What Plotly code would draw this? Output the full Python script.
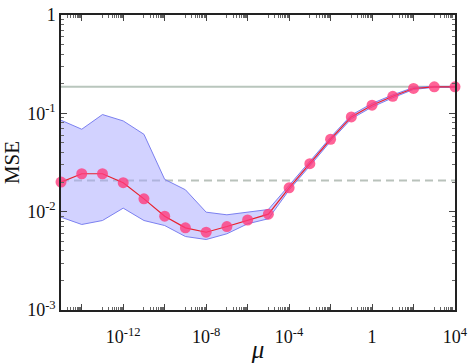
import plotly.graph_objects as go

# regularisation strength mu, one point per decade
mu = [1e-15, 1e-14, 1e-13, 1e-12, 1e-11, 1e-10, 1e-9, 1e-8, 1e-7, 1e-6,
      1e-5, 1e-4, 1e-3, 1e-2, 1e-1, 1e0, 1e1, 1e2, 1e3, 1e4]
mse_mean = [0.0200, 0.0243, 0.0243, 0.0197, 0.0135, 0.0090, 0.00685, 0.00618, 0.00706, 0.00823,
            0.00944, 0.0175, 0.0308, 0.0545, 0.092, 0.121, 0.149, 0.179, 0.186, 0.186]
mse_upper = [0.0851, 0.0689, 0.0972, 0.0837, 0.0612, 0.0213, 0.0167, 0.00988, 0.00929, 0.00988,
             0.01052, 0.0185, 0.0325, 0.0570, 0.0960, 0.126, 0.154, 0.183, 0.188, 0.188]
mse_lower = [0.00879, 0.00741, 0.00813, 0.01086, 0.00813, 0.00723, 0.00559, 0.00521, 0.00596, 0.00753,
             0.00847, 0.0166, 0.0292, 0.0520, 0.0880, 0.116, 0.144, 0.175, 0.184, 0.184]
ref_solid = 0.186
ref_dashed = 0.0208

x_major = [1e-14, 1e-12, 1e-10, 1e-8, 1e-6, 1e-4, 1e-2, 1e0, 1e2, 1e4]
x_text = ["", "10<sup>-12</sup>", "", "10<sup>-8</sup>", "", "10<sup>-4</sup>", "", "1", "", "10<sup>4</sup>"]
y_major = [1e-3, 1e-2, 1e-1, 1]
y_text = ["10<sup>-3</sup>", "10<sup>-2</sup>", "10<sup>-1</sup>", "1"]

x_minor = [n * 10.0 ** k for k in range(-15, 4, 2) for n in range(1, 10)]
y_minor = [n * 10.0 ** k for k in range(-3, 0) for n in range(2, 10)]

fig = go.Figure()
fig.add_trace(go.Scatter(x=[mu[0], mu[-1]], y=[ref_solid, ref_solid], mode="lines",
                         line=dict(color="#b9c6bd", width=2), showlegend=False))
fig.add_trace(go.Scatter(x=[mu[0], mu[-1]], y=[ref_dashed, ref_dashed], mode="lines",
                         line=dict(color="#b9c2bb", width=2, dash="8px,5px"), showlegend=False))
fig.add_trace(go.Scatter(x=mu, y=mse_lower, mode="lines",
                         line=dict(color="#7b80f0", width=1), showlegend=False))
fig.add_trace(go.Scatter(x=mu, y=mse_upper, mode="lines", fill="tonexty",
                         fillcolor="rgba(165,165,255,0.5)",
                         line=dict(color="#7b80f0", width=1), showlegend=False))
fig.add_trace(go.Scatter(x=mu, y=mse_mean, mode="lines+markers",
                         line=dict(color="#e8202c", width=1.2),
                         marker=dict(size=11, color="rgba(255,60,125,0.8)", line=dict(width=0)),
                         showlegend=False, cliponaxis=False))

axis_common = dict(type="log", showgrid=False, zeroline=False, showline=True, mirror="ticks",
                   linecolor="#222", linewidth=1.5, ticks="inside", ticklen=6, tickcolor="#444",
                   automargin=False,
                   tickfont=dict(family="Liberation Serif", size=18, color="#111"))

fig.update_xaxes(range=[-15, 4], tickmode="array", tickvals=x_major, ticktext=x_text,
                 ticklabelstandoff=10,
                 minor=dict(tickmode="array", tickvals=x_minor, ticks="inside", ticklen=3,
                            tickcolor="#666", showgrid=False),
                 title=dict(text="<i>μ</i>", font=dict(family="Liberation Serif", size=25, color="#111"),
                            standoff=0),
                 **axis_common)
fig.update_yaxes(range=[-3, 0], tickmode="array", tickvals=y_major, ticktext=y_text,
                 minor=dict(tickmode="array", tickvals=y_minor, ticks="inside", ticklen=3,
                            tickcolor="#666", showgrid=False),
                 title=dict(text="MSE", font=dict(family="Liberation Serif", size=21, color="#111"),
                            standoff=2),
                 **axis_common)

fig.update_layout(width=468, height=363, margin=dict(l=61, r=13, t=15, b=53),
                  plot_bgcolor="white", paper_bgcolor="white", showlegend=False)

fig.write_html("out.html", config={"displayModeBar": False},
               post_script="document.body.style.margin='0';")
